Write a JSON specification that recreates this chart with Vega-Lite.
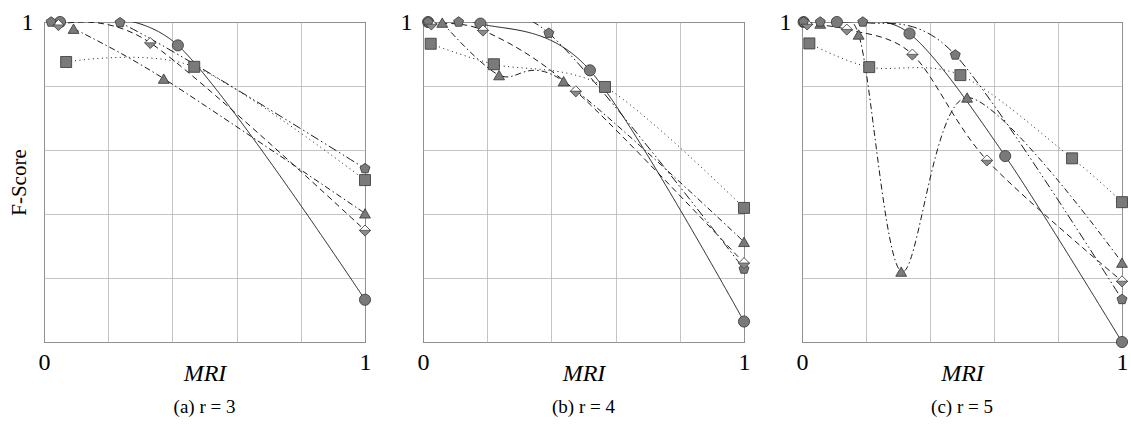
{
  "$schema": "https://vega.github.io/schema/vega-lite/v6.json",
  "autosize": {"type": "pad"},
  "padding": {"left": 7, "top": 9, "right": 0, "bottom": 0},
  "background": "#ffffff",
  "bounds": "flush",
  "spacing": 58,
  "data": {"values": [
    {"panel": "a", "series": "circle", "x": 0.05, "y": 1.0},
    {"panel": "a", "series": "circle", "x": 0.417, "y": 0.927},
    {"panel": "a", "series": "circle", "x": 1.0, "y": 0.132},
    {"panel": "a", "series": "square", "x": 0.069, "y": 0.875},
    {"panel": "a", "series": "square", "x": 0.468, "y": 0.86},
    {"panel": "a", "series": "square", "x": 1.0, "y": 0.506},
    {"panel": "a", "series": "triangle", "x": 0.092, "y": 0.979},
    {"panel": "a", "series": "triangle", "x": 0.373, "y": 0.823},
    {"panel": "a", "series": "triangle", "x": 1.0, "y": 0.402},
    {"panel": "a", "series": "diamond", "x": 0.045, "y": 0.991},
    {"panel": "a", "series": "diamond", "x": 0.331, "y": 0.935},
    {"panel": "a", "series": "diamond", "x": 1.0, "y": 0.349},
    {"panel": "a", "series": "pentagon", "x": 0.022, "y": 1.0},
    {"panel": "a", "series": "pentagon", "x": 0.237, "y": 0.998},
    {"panel": "a", "series": "pentagon", "x": 1.0, "y": 0.542},

    {"panel": "b", "series": "circle", "x": 0.016, "y": 1.0},
    {"panel": "b", "series": "circle", "x": 0.179, "y": 0.995},
    {"panel": "b", "series": "circle", "x": 0.52, "y": 0.849},
    {"panel": "b", "series": "circle", "x": 1.0, "y": 0.064},
    {"panel": "b", "series": "square", "x": 0.024, "y": 0.932},
    {"panel": "b", "series": "square", "x": 0.221, "y": 0.868},
    {"panel": "b", "series": "square", "x": 0.567, "y": 0.797},
    {"panel": "b", "series": "square", "x": 1.0, "y": 0.419},
    {"panel": "b", "series": "triangle", "x": 0.06, "y": 0.998},
    {"panel": "b", "series": "triangle", "x": 0.237, "y": 0.834},
    {"panel": "b", "series": "triangle", "x": 0.438, "y": 0.815},
    {"panel": "b", "series": "triangle", "x": 1.0, "y": 0.313},
    {"panel": "b", "series": "diamond", "x": 0.026, "y": 0.993},
    {"panel": "b", "series": "diamond", "x": 0.187, "y": 0.974},
    {"panel": "b", "series": "diamond", "x": 0.476, "y": 0.784},
    {"panel": "b", "series": "diamond", "x": 1.0, "y": 0.247},
    {"panel": "b", "series": "pentagon", "x": 0.016, "y": 1.0},
    {"panel": "b", "series": "pentagon", "x": 0.111, "y": 1.0},
    {"panel": "b", "series": "pentagon", "x": 0.392, "y": 0.965},
    {"panel": "b", "series": "pentagon", "x": 1.0, "y": 0.228},

    {"panel": "c", "series": "circle", "x": 0.005, "y": 1.0},
    {"panel": "c", "series": "circle", "x": 0.109, "y": 1.0},
    {"panel": "c", "series": "circle", "x": 0.336, "y": 0.964},
    {"panel": "c", "series": "circle", "x": 0.635, "y": 0.581},
    {"panel": "c", "series": "circle", "x": 1.0, "y": 0.0},
    {"panel": "c", "series": "square", "x": 0.023, "y": 0.933},
    {"panel": "c", "series": "square", "x": 0.21, "y": 0.859},
    {"panel": "c", "series": "square", "x": 0.495, "y": 0.834},
    {"panel": "c", "series": "square", "x": 0.844, "y": 0.574},
    {"panel": "c", "series": "square", "x": 1.0, "y": 0.437},
    {"panel": "c", "series": "triangle", "x": 0.057, "y": 0.995},
    {"panel": "c", "series": "triangle", "x": 0.177, "y": 0.961},
    {"panel": "c", "series": "triangle", "x": 0.31, "y": 0.22},
    {"panel": "c", "series": "triangle", "x": 0.516, "y": 0.764},
    {"panel": "c", "series": "triangle", "x": 1.0, "y": 0.248},
    {"panel": "c", "series": "diamond", "x": 0.016, "y": 0.993},
    {"panel": "c", "series": "diamond", "x": 0.14, "y": 0.977},
    {"panel": "c", "series": "diamond", "x": 0.345, "y": 0.899},
    {"panel": "c", "series": "diamond", "x": 0.578, "y": 0.568},
    {"panel": "c", "series": "diamond", "x": 1.0, "y": 0.19},
    {"panel": "c", "series": "pentagon", "x": 0.005, "y": 1.0},
    {"panel": "c", "series": "pentagon", "x": 0.057, "y": 1.0},
    {"panel": "c", "series": "pentagon", "x": 0.19, "y": 1.0},
    {"panel": "c", "series": "pentagon", "x": 0.479, "y": 0.897},
    {"panel": "c", "series": "pentagon", "x": 1.0, "y": 0.133}
  ]},
  "hconcat": [
    {
      "width": 321, "height": 320,
      "title": {"text": "(a) r = 3", "orient": "bottom", "offset": 13},
      "transform": [{"filter": "datum.panel == 'a'"}],
      "layer": [
        {"mark": {"type": "line", "interpolate": "cardinal", "tension": 0.08, "clip": true, "color": "#1a1a1a", "strokeWidth": 1},
         "encoding": {
           "x": {"field": "x", "type": "quantitative", "scale": {"domain": [0, 1]},
                 "axis": {"title": "MRI", "values": [0, 0.2, 0.4, 0.6, 0.8, 1], "labelExpr": "datum.value == 0 || datum.value == 1 ? format(datum.value, 'd') : ''"}},
           "y": {"field": "y", "type": "quantitative", "scale": {"domain": [0, 1]},
                 "axis": {"title": "F-Score", "values": [0, 0.2, 0.4, 0.6, 0.8, 1], "labelExpr": "datum.value == 1 ? '1' : ''"}},
           "strokeDash": {"field": "series", "type": "nominal", "legend": null,
             "scale": {"domain": ["circle", "square", "triangle", "diamond", "pentagon"],
                       "range": [[1, 0], [1, 3.5], [6, 3, 1.5, 3], [6, 4], [9, 3, 1.5, 3, 1.5, 3]]}}
         }},
        {"mark": {"type": "point", "filled": true, "stroke": "#333333", "strokeWidth": 0.8, "opacity": 1},
         "encoding": {
           "x": {"field": "x", "type": "quantitative"},
           "y": {"field": "y", "type": "quantitative"},
           "shape": {"field": "series", "type": "nominal", "legend": null,
             "scale": {"domain": ["circle", "square", "triangle", "diamond", "pentagon"],
                       "range": ["circle", "square", "triangle-up", "diamond", "M0,-1L0.951,-0.309L0.588,0.809L-0.588,0.809L-0.951,-0.309Z"]}},
           "fill": {"field": "series", "type": "nominal", "legend": null,
             "scale": {"domain": ["circle", "square", "triangle", "diamond", "pentagon"],
                       "range": ["#7a7a7a", "#7a7a7a", "#7a7a7a", "#ffffff", "#7a7a7a"]}},
           "size": {"field": "series", "type": "nominal", "legend": null,
             "scale": {"domain": ["circle", "square", "triangle", "diamond", "pentagon"],
                       "range": [125, 110, 130, 135, 130]}}
         }},
        {"transform": [{"filter": "datum.series == 'diamond'"}],
         "mark": {"type": "point", "filled": true, "fill": "#8a8a8a", "stroke": "#333333", "strokeWidth": 0.6, "opacity": 1, "shape": "M-1,0L0,1L1,0Z", "size": 135},
         "encoding": {
           "x": {"field": "x", "type": "quantitative"},
           "y": {"field": "y", "type": "quantitative"}
         }}
      ]
    },
    {
      "width": 321, "height": 320,
      "title": {"text": "(b) r = 4", "orient": "bottom", "offset": 13},
      "transform": [{"filter": "datum.panel == 'b'"}],
      "layer": [
        {"mark": {"type": "line", "interpolate": "cardinal", "tension": 0.08, "clip": true, "color": "#1a1a1a", "strokeWidth": 1},
         "encoding": {
           "x": {"field": "x", "type": "quantitative", "scale": {"domain": [0, 1]},
                 "axis": {"title": "MRI", "values": [0, 0.2, 0.4, 0.6, 0.8, 1], "labelExpr": "datum.value == 0 || datum.value == 1 ? format(datum.value, 'd') : ''"}},
           "y": {"field": "y", "type": "quantitative", "scale": {"domain": [0, 1]},
                 "axis": {"title": null, "values": [0, 0.2, 0.4, 0.6, 0.8, 1], "labelExpr": "datum.value == 1 ? '1' : ''"}},
           "strokeDash": {"field": "series", "type": "nominal", "legend": null,
             "scale": {"domain": ["circle", "square", "triangle", "diamond", "pentagon"],
                       "range": [[1, 0], [1, 3.5], [6, 3, 1.5, 3], [6, 4], [9, 3, 1.5, 3, 1.5, 3]]}}
         }},
        {"mark": {"type": "point", "filled": true, "stroke": "#333333", "strokeWidth": 0.8, "opacity": 1},
         "encoding": {
           "x": {"field": "x", "type": "quantitative"},
           "y": {"field": "y", "type": "quantitative"},
           "shape": {"field": "series", "type": "nominal", "legend": null,
             "scale": {"domain": ["circle", "square", "triangle", "diamond", "pentagon"],
                       "range": ["circle", "square", "triangle-up", "diamond", "M0,-1L0.951,-0.309L0.588,0.809L-0.588,0.809L-0.951,-0.309Z"]}},
           "fill": {"field": "series", "type": "nominal", "legend": null,
             "scale": {"domain": ["circle", "square", "triangle", "diamond", "pentagon"],
                       "range": ["#7a7a7a", "#7a7a7a", "#7a7a7a", "#ffffff", "#7a7a7a"]}},
           "size": {"field": "series", "type": "nominal", "legend": null,
             "scale": {"domain": ["circle", "square", "triangle", "diamond", "pentagon"],
                       "range": [125, 110, 130, 135, 130]}}
         }},
        {"transform": [{"filter": "datum.series == 'diamond'"}],
         "mark": {"type": "point", "filled": true, "fill": "#8a8a8a", "stroke": "#333333", "strokeWidth": 0.6, "opacity": 1, "shape": "M-1,0L0,1L1,0Z", "size": 135},
         "encoding": {
           "x": {"field": "x", "type": "quantitative"},
           "y": {"field": "y", "type": "quantitative"}
         }}
      ]
    },
    {
      "width": 320, "height": 320,
      "title": {"text": "(c) r = 5", "orient": "bottom", "offset": 13},
      "transform": [{"filter": "datum.panel == 'c'"}],
      "layer": [
        {"mark": {"type": "line", "interpolate": "cardinal", "tension": 0.08, "clip": true, "color": "#1a1a1a", "strokeWidth": 1},
         "encoding": {
           "x": {"field": "x", "type": "quantitative", "scale": {"domain": [0, 1]},
                 "axis": {"title": "MRI", "values": [0, 0.2, 0.4, 0.6, 0.8, 1], "labelExpr": "datum.value == 0 || datum.value == 1 ? format(datum.value, 'd') : ''"}},
           "y": {"field": "y", "type": "quantitative", "scale": {"domain": [0, 1]},
                 "axis": {"title": null, "values": [0, 0.2, 0.4, 0.6, 0.8, 1], "labelExpr": "datum.value == 1 ? '1' : ''"}},
           "strokeDash": {"field": "series", "type": "nominal", "legend": null,
             "scale": {"domain": ["circle", "square", "triangle", "diamond", "pentagon"],
                       "range": [[1, 0], [1, 3.5], [6, 3, 1.5, 3], [6, 4], [9, 3, 1.5, 3, 1.5, 3]]}}
         }},
        {"mark": {"type": "point", "filled": true, "stroke": "#333333", "strokeWidth": 0.8, "opacity": 1},
         "encoding": {
           "x": {"field": "x", "type": "quantitative"},
           "y": {"field": "y", "type": "quantitative"},
           "shape": {"field": "series", "type": "nominal", "legend": null,
             "scale": {"domain": ["circle", "square", "triangle", "diamond", "pentagon"],
                       "range": ["circle", "square", "triangle-up", "diamond", "M0,-1L0.951,-0.309L0.588,0.809L-0.588,0.809L-0.951,-0.309Z"]}},
           "fill": {"field": "series", "type": "nominal", "legend": null,
             "scale": {"domain": ["circle", "square", "triangle", "diamond", "pentagon"],
                       "range": ["#7a7a7a", "#7a7a7a", "#7a7a7a", "#ffffff", "#7a7a7a"]}},
           "size": {"field": "series", "type": "nominal", "legend": null,
             "scale": {"domain": ["circle", "square", "triangle", "diamond", "pentagon"],
                       "range": [125, 110, 130, 135, 130]}}
         }},
        {"transform": [{"filter": "datum.series == 'diamond'"}],
         "mark": {"type": "point", "filled": true, "fill": "#8a8a8a", "stroke": "#333333", "strokeWidth": 0.6, "opacity": 1, "shape": "M-1,0L0,1L1,0Z", "size": 135},
         "encoding": {
           "x": {"field": "x", "type": "quantitative"},
           "y": {"field": "y", "type": "quantitative"}
         }}
      ]
    }
  ],
  "config": {
    "font": "Liberation Serif",
    "view": {"stroke": "#000000", "strokeWidth": 1},
    "axis": {
      "domain": false, "ticks": false, "grid": true,
      "gridColor": "#b5b5b5", "gridWidth": 0.8,
      "labelFont": "Liberation Serif", "labelFontSize": 24, "labelColor": "#000000",
      "labelOverlap": false, "labelFlush": false,
      "titleFont": "Liberation Serif", "titleFontWeight": "normal", "titleColor": "#000000"
    },
    "axisX": {
      "labelPadding": 8, "labelBaseline": "top",
      "titleFontSize": 24, "titleFontStyle": "italic", "titleY": 31, "titleBaseline": "middle"
    },
    "axisY": {
      "labelPadding": 11,
      "titleFontSize": 21, "titleX": -25, "titleY": 160, "titleBaseline": "middle", "titleAngle": -90
    },
    "title": {"font": "Liberation Serif", "fontSize": 19, "fontWeight": "normal", "color": "#000000"}
  }
}
